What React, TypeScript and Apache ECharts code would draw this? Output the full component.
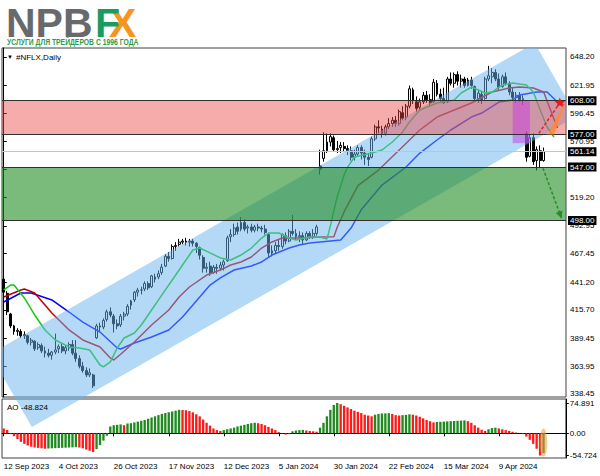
import React, { useEffect, useRef } from "react";
import * as echarts from "echarts";

// ---------- data ----------
const TICK_LABELS = [
  "12 Sep 2023", "4 Oct 2023", "26 Oct 2023", "17 Nov 2023", "12 Dec 2023",
  "5 Jan 2024", "30 Jan 2024", "22 Feb 2024", "15 Mar 2024", "9 Apr 2024",
];
const BARS_PER_TICK = 16;
const SLOT_COUNT = 164; // 158 daily bars + empty space on the right

const OPEN = [
  444, 431, 412, 401, 396, 396, 392, 392, 386, 387,
  381, 383, 378, 376, 374, 377, 380, 382, 378, 381,
  384, 376, 371, 364, 360, 356, 356, 390, 401, 400,
  407, 414, 410, 403, 402, 410, 412, 420, 425, 432,
  434, 435, 440, 437, 446, 446, 450, 456, 465, 463,
  474, 476, 478, 479, 478, 479, 477, 473, 464, 454,
  456, 450, 455, 454, 457, 461, 483, 485, 492, 490,
  496, 491, 492, 489, 492, 491, 490, 485, 468, 470,
  475, 474, 484, 479, 488, 486, 483, 484, 480, 486,
  483, 486, 548, 555, 562, 570, 574, 563, 565, 566,
  564, 562, 556, 559, 565, 560, 556, 556, 573, 584,
  582, 578, 584, 587, 590, 587, 597, 593, 603, 618,
  607, 602, 607, 613, 609, 607, 624, 614, 610, 607,
  628, 624, 632, 626, 628, 622, 627, 621, 610, 614,
  610, 628, 630, 634, 628, 621, 630, 624, 616, 611,
  613, 609, 578, 557, 574, 553, 562, 553,
];
const HIGH = [
  447, 433, 413, 402, 399, 398, 396, 393, 390, 388,
  386, 385, 382, 380, 378, 394, 384, 385, 383, 386,
  388, 388, 374, 368, 363, 362, 357, 403, 404, 408,
  416, 418, 412, 407, 412, 414, 421, 425, 433, 436,
  437, 442, 442, 448, 449, 452, 458, 467, 469, 476,
  478, 481, 481, 482, 481, 481, 478, 474, 466, 459,
  460, 457, 458, 460, 462, 484, 490, 495, 496, 501,
  499, 494, 495, 494, 495, 493, 494, 486, 475, 478,
  480, 486, 487, 490, 503, 490, 488, 487, 488, 488,
  490, 494, 563, 579, 578, 578, 576, 571, 570, 570,
  567, 566, 563, 567, 567, 563, 560, 575, 586, 590,
  585, 586, 592, 593, 594, 600, 603, 605, 622, 620,
  612, 610, 616, 617, 614, 628, 627, 619, 620, 630,
  634, 634, 635, 632, 630, 629, 630, 622, 618, 617,
  630, 640, 638, 637, 633, 632, 634, 626, 620, 616,
  616, 613, 580, 577, 578, 566, 567, 565,
];
const LOW = [
  430, 411, 399, 393, 392, 390, 389, 384, 383, 378,
  379, 376, 372, 372, 370, 375, 376, 376, 375, 378,
  374, 368, 362, 358, 354, 354, 344, 389, 396, 398,
  405, 409, 395, 398, 400, 406, 410, 416, 423, 428,
  430, 433, 434, 436, 441, 444, 448, 455, 460, 462,
  470, 474, 476, 475, 474, 474, 468, 462, 450, 450,
  447, 449, 449, 452, 452, 460, 478, 483, 485, 488,
  488, 486, 487, 487, 488, 487, 485, 464, 465, 468,
  470, 472, 476, 478, 484, 480, 478, 476, 479, 481,
  481, 484, 540, 552, 560, 566, 561, 560, 560, 561,
  558, 553, 553, 557, 554, 549, 548, 555, 571, 578,
  574, 576, 582, 584, 584, 585, 590, 590, 601, 605,
  598, 599, 605, 606, 603, 606, 612, 607, 605, 606,
  622, 620, 622, 620, 620, 621, 619, 607, 606, 605,
  609, 626, 624, 626, 618, 620, 622, 613, 609, 606,
  607, 604, 552, 556, 549, 544, 547, 552,
];
const CLOSE = [
  432, 414, 401, 396, 397, 392, 393, 386, 388, 380,
  384, 378, 376, 374, 377, 379, 382, 378, 381, 384,
  376, 371, 364, 360, 356, 358, 346, 401, 400, 406,
  414, 411, 403, 401, 410, 412, 419, 424, 432, 434,
  434, 440, 436, 447, 444, 449, 455, 465, 463, 474,
  475, 478, 479, 478, 479, 477, 474, 466, 454, 455,
  449, 455, 454, 457, 460, 482, 485, 491, 488, 496,
  490, 492, 489, 492, 491, 490, 487, 468, 470, 475,
  474, 485, 479, 488, 486, 483, 484, 480, 486, 483,
  486, 492, 545, 562, 570, 575, 563, 564, 567, 564,
  562, 556, 559, 565, 560, 556, 554, 573, 584, 583,
  577, 584, 587, 590, 587, 598, 592, 603, 619, 608,
  601, 607, 613, 609, 606, 625, 614, 610, 606, 628,
  624, 632, 626, 628, 622, 627, 622, 610, 615, 609,
  628, 631, 634, 628, 620, 630, 624, 616, 611, 613,
  609, 610, 556, 574, 552, 563, 553, 561.14,
];

// Awesome Oscillator histogram
const AO = [
  12, 8, -2, -7, -14, -21, -26, -30, -33, -35,
  -36, -37, -38, -37.5, -37, -36.6, -36.2, -35.8, -35.4, -35,
  -34.6, -34.2, -35, -37, -40, -43, -46, -39, -29, -18,
  -6, 17, 20, 21, 22, 20, 24, 25, 27, 29,
  31, 33, 36, 39, 42, 45, 48, 50, 52, 54,
  56, 58, 57.5, 57, 55, 52, 47, 42, 34, 26,
  19, 12, 8, 6, 8, 10, 12, 14, 17, 19,
  21, 23, 25, 26, 25, 23, 20, 16, 12, 8,
  3, -1, -3, -2, 5, 7, 8, 8.5, 7, 6,
  5, 4, 14, 26, 42, 58, 70, 74.891, 72, 68,
  64, 60, 56, 53, 50, 46, 44, 42, 46, 48,
  49, 49.3, 49.6, 48, 45, 44, 45, 45.5, 47, 46,
  44, 41, 37, 33, 30, 27, 28, 28.5, 29, 29.5,
  30, 30.5, 31, 31.5, 32, 30, 26, 20, 14, 9,
  6, 10, 13, 14, 12, 10, 8, 6, 4, 2,
  0.5, -2, -8, -16, -26, -38, -54.724, -48.824,
];
const AO_LAST = -48.824;

// Alligator lines: [bar index, price]
const JAW = [
  [0, 423], [5, 431.3], [8, 431.3], [14, 424.9], [19, 413.8], [23, 404.6], [28, 395.4],
  [33, 380.7], [34, 379.8], [38, 385.3], [43, 390.9], [48, 397.3], [52, 409.2], [57, 427.6],
  [60, 438.6], [63, 445.1], [67, 452.4], [72, 456.1], [75, 459.8], [78, 466.2], [83, 472.6],
  [86, 475.4], [89, 477.2], [95, 479.1], [98, 480], [101, 491], [104, 508], [110, 530.5],
  [117, 547.1], [121, 559.9], [126, 571.9], [130, 581.1], [136, 593], [139, 596.7],
  [144, 606.8], [148, 608.7], [150, 613.3], [155, 616], [158, 616], [161, 606.8], [163, 604],
];
const TEETH = [
  [0, 427.6], [5, 434.1], [6, 435], [9, 431.3], [14, 412.9], [19, 397.3], [23, 388.1],
  [28, 381.7], [31, 371.6], [32, 369.7], [34, 375], [38, 386.3], [43, 401.9], [48, 415.7],
  [51, 427.6], [54, 436.8], [59, 447.8], [63, 452.4], [66, 457], [69, 459.8], [72, 464.4],
  [75, 472.6], [78, 478.2], [81, 481.8], [86, 481.8], [92, 482.8], [96, 483], [97, 492],
  [99, 506], [101, 518], [103, 530], [109, 544.3], [115, 562.7], [121, 581.1], [126, 593],
  [131, 599.5], [136, 605.9], [142, 616], [147, 619.7], [150, 620.6], [154, 619.7],
  [157, 616], [159, 599.5], [161, 582.9],
];
const LIPS = [
  [0, 434.1], [2, 438.6], [3, 438.6], [6, 426.7], [9, 411.1], [12, 397.3], [15, 388.1],
  [19, 381.7], [22, 380.7], [25, 378.9], [28, 365.1], [29, 363.3], [31, 367.9], [33, 380.7],
  [35, 389.9], [38, 394.5], [40, 401.9], [43, 415.7], [46, 429.5], [49, 443.2], [52, 457],
  [55, 470.8], [57, 472.6], [60, 468.1], [63, 463.5], [66, 461.6], [69, 466.2], [72, 472.6],
  [75, 481.8], [77, 486.4], [80, 486.4], [83, 481.8], [85, 479.9], [89, 482.8], [92, 482.8],
  [94, 481], [95, 493], [96, 507], [97, 520], [99, 540], [100, 547], [102, 556.3],
  [107, 560], [110, 562.7], [113, 570.1], [116, 579.3], [118, 588.5], [121, 599.5],
  [126, 605.9], [131, 608.7], [133, 615.1], [136, 620.6], [140, 615.1], [142, 616],
  [145, 622.5], [148, 624.3], [152, 622.5], [154, 616], [156, 599.5], [158, 583.9], [160, 574.7],
];

// axis ticks
const PRICE_TICKS = [648.2, 621.95, 596.45, 570.95, 545.45, 519.2, 492.95, 467.45, 441.2, 415.7, 389.45, 363.95, 338.45];
const AO_TICKS = [74.891, 0, -54.724];

// drawn levels and objects (data coordinates: bar index, price)
const RESISTANCE_ZONE = [608, 577];
const SUPPORT_ZONE = [547, 498];
const LAST_PRICE = 561.14;
const LEVELS = [608, 577, 547, 498];
const CHANNEL = [[-4, 375.2], [154.4, 661.1], [166.6, 594.0], [8.2, 308.1]];
const GAP_BOX = [[148, 608], [153, 569]];
const ARROW_UP = [[155.6, 578], [161.7, 606]];
const ORANGE_WEDGE = [[158.2, 577], [160, 577], [163.4, 606], [162.6, 603]];
const ARROW_DOWN = [[156.8, 546], [162.2, 500]];
const AO_MARK = { bar: 157, top: 12, bottom: -58 };

// ---------- helpers ----------
const FONT = '"Liberation Sans", Arial, sans-serif';
const PRICE_MIN = 335.69;
const PRICE_MAX = 656.47;
const AO_MIN = -60.9;
const AO_MAX = 84.77;

function clipEdge(pts: number[][], axis: number, bound: number, keepGreater: boolean) {
  const out: number[][] = [];
  for (let k = 0; k < pts.length; k++) {
    const a = pts[k];
    const b = pts[(k + 1) % pts.length];
    const ina = keepGreater ? a[axis] >= bound : a[axis] <= bound;
    const inb = keepGreater ? b[axis] >= bound : b[axis] <= bound;
    if (ina) out.push(a);
    if (ina !== inb) {
      const t = (bound - a[axis]) / (b[axis] - a[axis]);
      out.push([a[0] + t * (b[0] - a[0]), a[1] + t * (b[1] - a[1])]);
    }
  }
  return out;
}

function star(cx: number, cy: number, r1: number, r2: number) {
  const pts: number[][] = [];
  for (let k = 0; k < 10; k++) {
    const r = k % 2 === 0 ? r1 : r2;
    const ang = -Math.PI / 2 + (k * Math.PI) / 5;
    pts.push([cx + r * Math.cos(ang), cy + r * Math.sin(ang)]);
  }
  return pts;
}

function arrowHead(from: number[], to: number[], len: number, half: number) {
  const dx = to[0] - from[0];
  const dy = to[1] - from[1];
  const d = Math.sqrt(dx * dx + dy * dy) || 1;
  const ux = dx / d, uy = dy / d;
  const bx = to[0] - ux * len, by = to[1] - uy * len;
  return [to, [bx - uy * half, by + ux * half], [bx + uy * half, by - ux * half]];
}

function buildOption() {
  const categories = Array.from({ length: SLOT_COUNT }, (_, i) => String(i));
  const candles = OPEN.map((o, i) => [o, CLOSE[i], LOW[i], HIGH[i]]);
  const aoBars = AO.map((v, i) => ({
    value: v,
    itemStyle: { color: i > 0 && v > AO[i - 1] ? "#1f8a1f" : "#ff1a1a" },
  }));
  const tickShown = (index: number) => index % BARS_PER_TICK === 0 && index / BARS_PER_TICK < TICK_LABELS.length;

  const overlayRender = (params: any, api: any) => {
    const cs = params.coordSys;
    const L = cs.x, T = cs.y, R = cs.x + cs.width;
    let poly = CHANNEL.map((c) => api.coord(c));
    poly = clipEdge(poly, 0, L, true);
    poly = clipEdge(poly, 1, T, true);
    poly = clipEdge(poly, 0, R, false);
    const r1 = api.coord([0, RESISTANCE_ZONE[0]])[1];
    const r2 = api.coord([0, RESISTANCE_ZONE[1]])[1];
    const s1 = api.coord([0, SUPPORT_ZONE[0]])[1];
    const s2 = api.coord([0, SUPPORT_ZONE[1]])[1];
    const g1 = api.coord(GAP_BOX[0]);
    const g2 = api.coord(GAP_BOX[1]);
    return {
      type: "group",
      children: [
        { type: "polygon", shape: { points: poly }, style: { fill: "rgba(105,180,240,0.5)" } },
        { type: "rect", shape: { x: L, y: r1, width: cs.width, height: r2 - r1 }, style: { fill: "rgba(238,72,72,0.45)" } },
        { type: "rect", shape: { x: L, y: s1, width: cs.width, height: s2 - s1 }, style: { fill: "rgba(34,140,34,0.6)" } },
        { type: "rect", shape: { x: g1[0], y: g1[1], width: g2[0] - g1[0], height: g2[1] - g1[1] }, style: { fill: "rgba(200,60,225,0.5)" } },
      ],
    };
  };

  const arrowsRender = (_params: any, api: any) => {
    const a = api.coord(ARROW_UP[0]);
    const b = api.coord(ARROW_UP[1]);
    const c = api.coord(ARROW_DOWN[0]);
    const d = api.coord(ARROW_DOWN[1]);
    const wedge = ORANGE_WEDGE.map((p) => api.coord(p));
    return {
      type: "group",
      children: [
        { type: "polygon", shape: { points: wedge }, style: { fill: "rgba(255,140,40,0.85)" } },
        { type: "line", shape: { x1: a[0], y1: a[1], x2: b[0], y2: b[1] }, style: { stroke: "#e82020", lineWidth: 1.5, lineDash: [3, 2] } },
        { type: "polygon", shape: { points: star(b[0], b[1], 5.5, 2.4) }, style: { fill: "#ff1010" } },
        { type: "line", shape: { x1: c[0], y1: c[1], x2: d[0], y2: d[1] }, style: { stroke: "#2a8a2a", lineWidth: 1.5, lineDash: [3, 2] } },
        { type: "polygon", shape: { points: arrowHead(c, d, 7, 3.5) }, style: { fill: "#2a8a2a" } },
      ],
    };
  };

  const aoMarkRender = (_params: any, api: any) => {
    const top = api.coord([AO_MARK.bar, AO_MARK.top]);
    const bot = api.coord([AO_MARK.bar, AO_MARK.bottom]);
    const cx = top[0];
    const cy = (top[1] + bot[1]) / 2;
    const ry = (bot[1] - top[1]) / 2;
    const rx = api.size([1, 0])[0] * 1.1;
    const d = `M ${cx - rx} ${cy} A ${rx} ${ry} 0 1 0 ${cx + rx} ${cy} A ${rx} ${ry} 0 1 0 ${cx - rx} ${cy} Z`;
    return { type: "path", shape: { pathData: d }, style: { fill: "rgba(245,150,60,0.55)" } };
  };

  const axisText = { fontSize: 8, color: "#000", fontFamily: FONT };

  return {
    animation: false,
    backgroundColor: "#fff",
    grid: [
      { left: 2, top: 48, width: 564, height: 349, show: true, borderColor: "#404040", borderWidth: 1 },
      { left: 2, top: 399, width: 564, height: 59, show: true, borderColor: "#404040", borderWidth: 1 },
    ],
    xAxis: [
      { gridIndex: 0, type: "category", data: categories, boundaryGap: true, axisLine: { show: false }, axisTick: { show: false }, axisLabel: { show: false }, splitLine: { show: false } },
      { gridIndex: 0, type: "value", min: -0.5, max: SLOT_COUNT - 0.5, show: false },
      {
        gridIndex: 1, type: "category", data: categories, boundaryGap: true,
        axisLine: { show: true, lineStyle: { color: "#000" } },
        axisTick: { show: true, interval: tickShown, alignWithLabel: true, length: 3, lineStyle: { color: "#000" } },
        axisLabel: { interval: tickShown, formatter: (_v: string, idx: number) => TICK_LABELS[idx / BARS_PER_TICK] || "", align: "left", margin: 4, ...axisText },
        splitLine: { show: false },
      },
    ],
    yAxis: [
      {
        gridIndex: 0, type: "value", position: "right", min: PRICE_MIN, max: PRICE_MAX, splitLine: { show: false },
        axisLine: { show: true, lineStyle: { color: "#000" } },
        axisTick: { show: true, length: 3, customValues: PRICE_TICKS, lineStyle: { color: "#000" } },
        axisLabel: { customValues: PRICE_TICKS, formatter: (v: number) => v.toFixed(2), margin: 4, ...axisText },
      },
      {
        gridIndex: 1, type: "value", position: "right", min: AO_MIN, max: AO_MAX, splitLine: { show: false },
        axisLine: { show: true, lineStyle: { color: "#000" } },
        axisTick: { show: true, length: 3, customValues: AO_TICKS, lineStyle: { color: "#000" } },
        axisLabel: { customValues: AO_TICKS, formatter: (v: number) => (v === 0 ? "0.00" : v.toFixed(3)), margin: 4, ...axisText },
      },
    ],
    series: [
      {
        type: "candlestick", xAxisIndex: 0, yAxisIndex: 0, data: candles, barWidth: "70%", z: 2, silent: true,
        itemStyle: { color: "#ffffff", color0: "#000000", borderColor: "#000000", borderColor0: "#000000", borderWidth: 1 },
      },
      { type: "line", xAxisIndex: 1, yAxisIndex: 0, data: JAW, showSymbol: false, z: 3, silent: true, lineStyle: { color: "#0000ff", width: 1.5 } },
      { type: "line", xAxisIndex: 1, yAxisIndex: 0, data: TEETH, showSymbol: false, z: 3, silent: true, lineStyle: { color: "#c00000", width: 1.5 } },
      { type: "line", xAxisIndex: 1, yAxisIndex: 0, data: LIPS, showSymbol: false, z: 3, silent: true, lineStyle: { color: "#14c814", width: 1.5 } },
      { type: "custom", xAxisIndex: 1, yAxisIndex: 0, data: [[80, 500]], clip: false, z: 4, silent: true, renderItem: overlayRender },
      {
        type: "line", xAxisIndex: 1, yAxisIndex: 0, data: [], z: 6, silent: true,
        markLine: {
          silent: true, symbol: ["none", "none"], animation: false,
          lineStyle: { color: "#303030", width: 1, type: "solid" },
          label: {
            position: "end", distance: 2, color: "#fff", backgroundColor: "#000", padding: [1, 2, 0, 2],
            fontSize: 8, fontFamily: FONT, formatter: (p: any) => Number(p.value).toFixed(2),
          },
          data: [
            ...LEVELS.map((v) => ({ yAxis: v })),
            { yAxis: LAST_PRICE, lineStyle: { color: "#c4c4c4", width: 1, type: "solid" } },
          ],
        },
      },
      { type: "custom", xAxisIndex: 1, yAxisIndex: 0, data: [[80, 500]], clip: false, z: 7, silent: true, renderItem: arrowsRender },
      { type: "bar", xAxisIndex: 2, yAxisIndex: 1, data: aoBars, barWidth: "68%", z: 2, silent: true },
      { type: "custom", xAxisIndex: 2, yAxisIndex: 1, data: [[AO_MARK.bar, 0]], clip: false, z: 5, silent: true, renderItem: aoMarkRender },
    ],
    graphic: [
      { type: "text", x: 6, y: 23, z: 10, style: { text: "NPB", font: `bold 41px ${FONT}`, fill: "#68696c", verticalAlign: "middle", textVerticalAlign: "middle" } },
      { type: "text", x: 109, y: 23, z: 10, style: { text: "X", font: `bold 41px ${FONT}`, fill: "#f7941d", verticalAlign: "middle", textVerticalAlign: "middle" } },
      { type: "text", x: 95, y: 23, z: 11, style: { text: "F", font: `bold 41px ${FONT}`, fill: "#1a9c5e", verticalAlign: "middle", textVerticalAlign: "middle" } },
      { type: "text", x: 7, y: 42, scaleX: 0.8, z: 10, style: { text: "УСЛУГИ ДЛЯ ТРЕЙДЕРОВ С 1996 ГОДА", font: `bold 8.5px ${FONT}`, fill: "#2e9c48", verticalAlign: "middle", textVerticalAlign: "middle" } },
      { type: "text", x: 7, y: 57, z: 10, style: { text: "▼", font: `6px ${FONT}`, fill: "#000", verticalAlign: "middle", textVerticalAlign: "middle" } },
      { type: "text", x: 16, y: 57, z: 10, style: { text: "#NFLX,Daily", font: `8px ${FONT}`, fill: "#000", verticalAlign: "middle", textVerticalAlign: "middle" } },
      { type: "text", x: 7, y: 407, z: 10, style: { text: `AO ${AO_LAST.toFixed(3)}`, font: `8px ${FONT}`, fill: "#000", verticalAlign: "middle", textVerticalAlign: "middle" } },
    ],
  };
}

export default function App() {
  const ref = useRef<HTMLDivElement>(null);
  useEffect(() => {
    document.body.style.margin = "0";
    const chart = echarts.init(ref.current as HTMLDivElement, null, { renderer: "svg" });
    chart.setOption(buildOption() as any);
    return () => chart.dispose();
  }, []);
  return (
    <div
      ref={ref}
      style={{ position: "absolute", left: 0, top: 0, width: 600, height: 476, background: "#fff" }}
    />
  );
}
